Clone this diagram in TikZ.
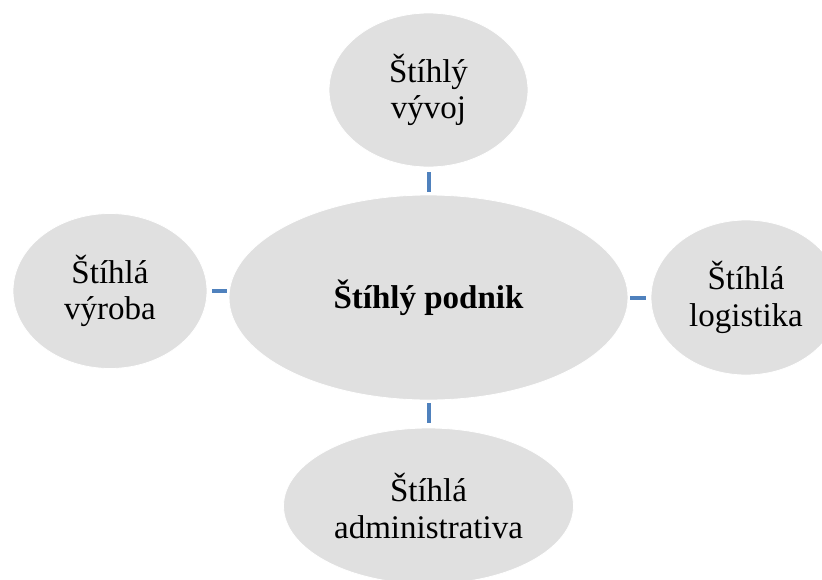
\documentclass[tikz,border=0pt]{standalone}
\usepackage{fontspec}
\setmainfont{Liberation Serif}
\usetikzlibrary{shapes.geometric}
\definecolor{bubble}{RGB}{224,224,224}
\definecolor{link}{RGB}{79,129,189}
\begin{document}
\begin{tikzpicture}[x=1pt,y=-1pt,
  bub/.style={ellipse, fill=bubble, draw=white, line width=0.8pt, inner sep=0pt,
    align=center, font=\fontsize{33}{36.5}\selectfont},
  conn/.style={draw=link, line width=4pt}]
\useasboundingbox (0,0) rectangle (822,579);
\node[bub, minimum width=399pt, minimum height=205pt, font=\fontsize{33}{36.5}\selectfont\bfseries] (c) at (428.5,297.5) {Štíhlý podnik};
\node[bub, minimum width=199pt, minimum height=154pt] (t) at (428.5,90) {Štíhlý\\vývoj};
\node[bub, minimum width=194pt, minimum height=155pt] (l) at (110,291) {Štíhlá\\výroba};
\node[bub, minimum width=190pt, minimum height=155pt] (r) at (746,297.5) {Štíhlá\\logistika};
\node[bub, minimum width=290pt, minimum height=156pt] (b) at (428.5,506) {Štíhlá\\administrativa};
\draw[conn, shorten <=5pt, shorten >=3pt] (t.south) -- (c.north);
\draw[conn, shorten <=5pt, shorten >=2pt] (l.east) -- (l.east -| c.west);
\draw[conn, shorten <=2pt, shorten >=5pt] (c.east) -- (r.west);
\draw[conn, shorten <=3pt, shorten >=5pt] (c.south) -- (b.north);
\end{tikzpicture}
\end{document}
